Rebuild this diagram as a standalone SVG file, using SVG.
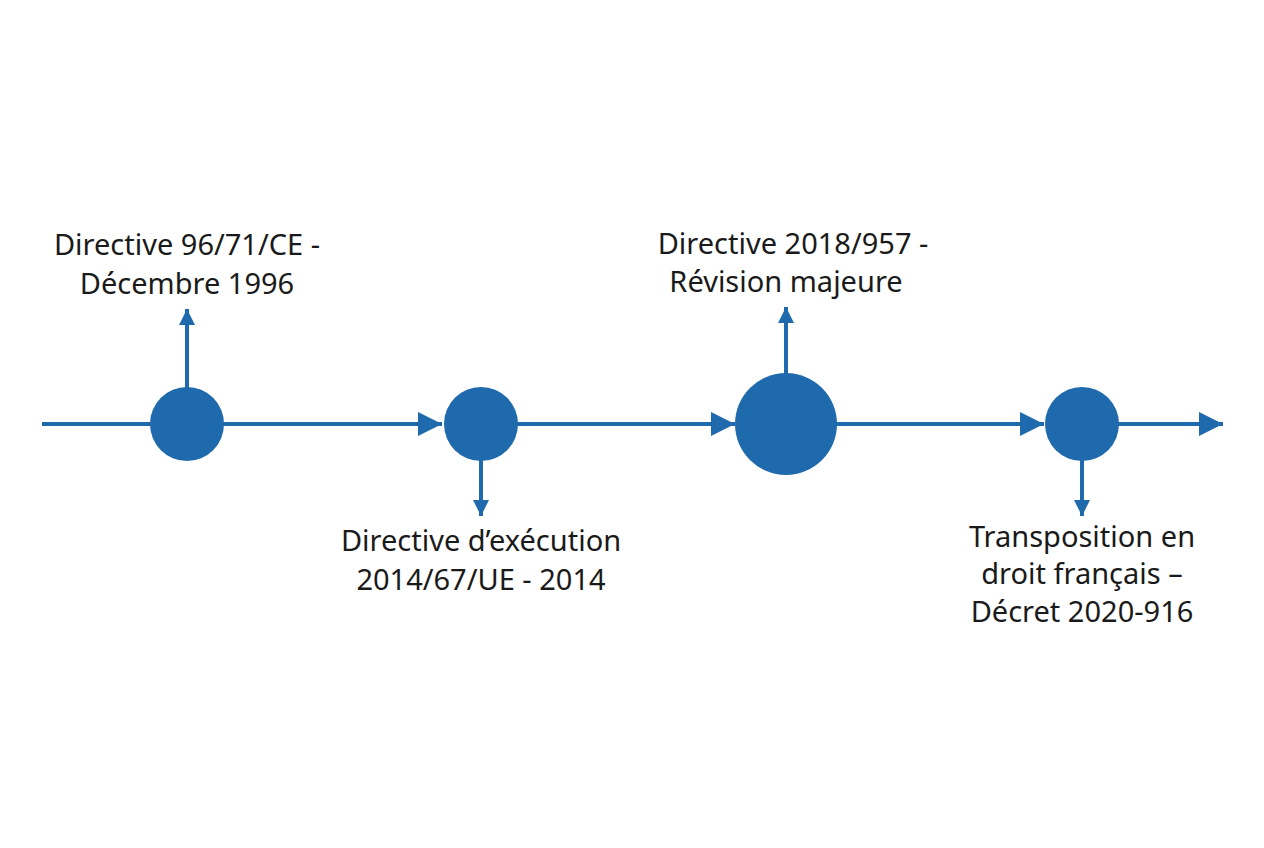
<svg xmlns="http://www.w3.org/2000/svg" width="1264" height="848" viewBox="0 0 1264 848">
<defs>
<marker id="ah" markerWidth="10" markerHeight="10" refX="9" refY="5" orient="auto" markerUnits="userSpaceOnUse" viewBox="0 0 10 10"><path d="M0,0 L10,5 L0,10 Z" fill="#1f6aad"/></marker>
<marker id="big" viewBox="0 0 10 10" refX="10" refY="5" markerWidth="26" markerHeight="24" orient="auto" markerUnits="userSpaceOnUse"><path d="M0,0 L10,5 L0,10 Z" fill="#1f6aad"/></marker>
<marker id="sm" viewBox="0 0 10 10" refX="10" refY="5" markerWidth="18" markerHeight="16" orient="auto" markerUnits="userSpaceOnUse"><path d="M0,0 L10,5 L0,10 Z" fill="#1f6aad"/></marker>
</defs>
<style>
.ln{stroke:#1f6aad;stroke-width:4;fill:none}
.nd{fill:#1f6aad}
text{font-family:"Noto Sans","Open Sans",sans-serif;font-size:29px;fill:#1a1a1a;text-anchor:middle}
</style>
<rect width="1264" height="848" fill="#fff"/>
<g id="connectors">
<line class="ln" x1="42" y1="424" x2="152" y2="424"/>
<line class="ln" x1="222" y1="424" x2="442" y2="424" marker-end="url(#big)"/>
<line class="ln" x1="516" y1="424" x2="735" y2="424" marker-end="url(#big)"/>
<line class="ln" x1="835" y1="424" x2="1044" y2="424" marker-end="url(#big)"/>
<line class="ln" x1="1117" y1="424" x2="1223" y2="424" marker-end="url(#big)"/>
<line class="ln" x1="187" y1="388" x2="187" y2="309" marker-end="url(#sm)"/>
<line class="ln" x1="481" y1="460" x2="481" y2="516" marker-end="url(#sm)"/>
<line class="ln" x1="786" y1="375" x2="786" y2="307" marker-end="url(#sm)"/>
<line class="ln" x1="1082" y1="460" x2="1082" y2="516" marker-end="url(#sm)"/>
</g>
<g id="n1"><circle class="nd" cx="187" cy="424" r="37"/><text x="187" y="255">Directive 96/71/CE -</text><text x="187" y="294">Décembre 1996</text></g>
<g id="n2"><circle class="nd" cx="481" cy="424" r="37"/><text x="481" y="551">Directive d’exécution</text><text x="481" y="590">2014/67/UE - 2014</text></g>
<g id="n3"><circle class="nd" cx="786" cy="424" r="51"/><text x="793" y="254">Directive 2018/957 -</text><text x="786" y="292">Révision majeure</text></g>
<g id="n4"><circle class="nd" cx="1082" cy="424" r="37"/><text x="1082" y="547">Transposition en</text><text x="1082" y="584">droit français –</text><text x="1082" y="622">Décret 2020-916</text></g>
</svg>
